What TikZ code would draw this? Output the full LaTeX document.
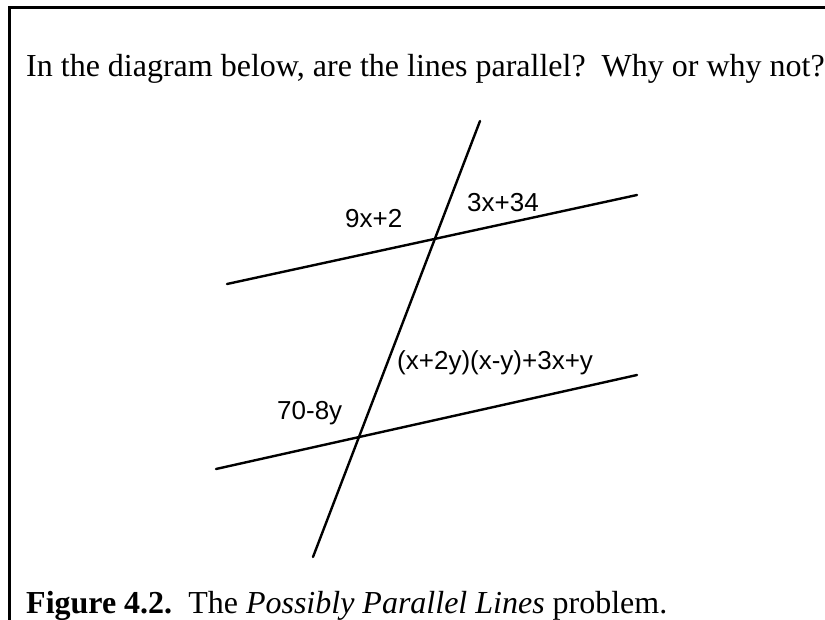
\documentclass[tikz,border=0pt]{standalone}
\usepackage{fontspec}
\setmainfont{Liberation Serif}
\setsansfont{Liberation Sans}
\usetikzlibrary{positioning}

\begin{document}
\begin{tikzpicture}[x=1pt, y=-1pt, line width=2.4pt, line cap=round,
    question/.style={anchor=base west, inner sep=0pt, font=\fontsize{32}{38}\selectfont},
    angle/.style={anchor=base west, inner sep=0pt, font=\sffamily\fontsize{26}{31}\selectfont}]
  \definecolor{ink}{HTML}{000000}
  \useasboundingbox (0,0) rectangle (825,620);
  \draw[fill=white, draw=none] (0,0) rectangle (825,620);
  % frame: top and left edges only
  \draw[ink, line width=3pt, line cap=butt] (825,8) -- (9,8) -- (9,620);
  \node[question] (ask) at (25,77) {\frenchspacing In the diagram below, are the lines parallel?\ \ Why or why not?};
  % the two lines and the transversal
  \coordinate (upL) at (227,284);
  \coordinate (upR) at (637,195);
  \coordinate (loL) at (216,469);
  \coordinate (loR) at (637,375);
  \coordinate (trT) at (480,121);
  \coordinate (trB) at (313,557);
  \draw[ink] (upL) -- (upR);
  \draw[ink] (loL) -- (loR);
  \draw[ink] (trT) -- (trB);
  \node[angle] (a1) at (344,228) {9x+2};
  \node[angle] (a2) at (466,212) {3x+34};
  \node[angle] (a3) at (396,370) {(x+2y)(x-y)+3x+y};
  \node[angle] (a4) at (276,420) {70-8y};
  \node[question] (cap) at (25,613) {\frenchspacing\textbf{Figure 4.2.}\ \ The \textit{Possibly Parallel Lines} problem.};
\end{tikzpicture}
\end{document}
